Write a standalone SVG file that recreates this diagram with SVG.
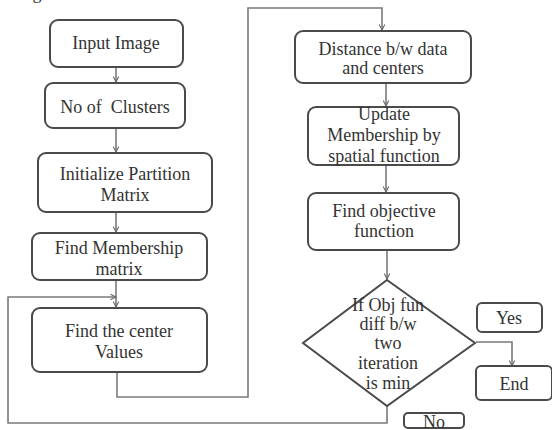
<svg xmlns="http://www.w3.org/2000/svg" width="552" height="430" viewBox="0 0 552 430">
<style>
.box{fill:#fff;stroke:#4a4a4a;stroke-width:2}
.t{font-family:'Liberation Serif','Times New Roman',serif;font-size:18px;fill:#333;text-anchor:middle}
.c{fill:none;stroke:#7a7a7a;stroke-width:1.6}
</style>
<defs>
<marker id="ah" viewBox="0 0 10 10" refX="9" refY="5" markerWidth="7" markerHeight="7" orient="auto" markerUnits="userSpaceOnUse">
<path d="M1,1 L9,5 L1,9" fill="none" stroke="#666" stroke-width="1.5"/>
</marker>
</defs>
<rect width="552" height="430" fill="#fff"/>
<text x="37" y="-1" class="t">g</text>
<g id="connectors">
<line class="c" x1="116" y1="67" x2="116" y2="82" marker-end="url(#ah)"/>
<line class="c" x1="116" y1="128" x2="116" y2="152" marker-end="url(#ah)"/>
<line class="c" x1="116" y1="212" x2="116" y2="232" marker-end="url(#ah)"/>
<line class="c" x1="116" y1="280" x2="116" y2="307" marker-end="url(#ah)"/>
<polyline class="c" points="117,372 117,397 248,397 248,8 382,8 382,30" marker-end="url(#ah)"/>
<line class="c" x1="386" y1="83" x2="386" y2="106" marker-end="url(#ah)"/>
<line class="c" x1="386" y1="165" x2="386" y2="192" marker-end="url(#ah)"/>
<line class="c" x1="387" y1="250" x2="387" y2="279" marker-end="url(#ah)"/>
<polyline class="c" points="476,342 512,342 512,366" marker-end="url(#ah)"/>
<polyline class="c" points="387,406 387,423 8,423 8,297 116,297" marker-end="url(#ah)"/>
</g>
<g id="input-image"><rect class="box" x="50" y="20" width="133" height="47" rx="8"/><text class="t" x="116" y="49">Input Image</text></g>
<g id="no-of-clusters"><rect class="box" x="45" y="83" width="140" height="45" rx="8"/><text class="t" x="115" y="113" xml:space="preserve">No of  Clusters</text></g>
<g id="init-partition"><rect class="box" x="38" y="153" width="174" height="59" rx="8"/><text class="t" x="125" y="180">Initialize Partition</text><text class="t" x="125" y="201">Matrix</text></g>
<g id="find-membership"><rect class="box" x="32" y="233" width="175" height="47" rx="8"/><text class="t" x="119" y="254">Find Membership</text><text class="t" x="119" y="275">matrix</text></g>
<g id="find-center"><rect class="box" x="32" y="308" width="175" height="64" rx="8"/><text class="t" x="119" y="337">Find the center</text><text class="t" x="119" y="358">Values</text></g>
<g id="distance"><rect class="box" x="295" y="31" width="176" height="52" rx="8"/><text class="t" x="383" y="55">Distance b/w data</text><text class="t" x="383" y="74">and centers</text></g>
<g id="update-membership"><rect class="box" x="308" y="107" width="151" height="58" rx="8"/><text class="t" x="384" y="120">Update</text><text class="t" x="384" y="141">Membership by</text><text class="t" x="384" y="162">spatial function</text></g>
<g id="find-objective"><rect class="box" x="308" y="193" width="151" height="57" rx="8"/><text class="t" x="384" y="217">Find objective</text><text class="t" x="384" y="237">function</text></g>
<g id="decision"><polygon class="box" points="387,280 475,343 387,406 303,343"/><text class="t" x="388" y="311">If Obj fun</text><text class="t" x="388" y="330">diff b/w</text><text class="t" x="388" y="349">two</text><text class="t" x="388" y="369">iteration</text><text class="t" x="388" y="389">is min</text></g>
<g id="yes"><rect class="box" x="477" y="303" width="65" height="29" rx="5"/><text class="t" x="509" y="324">Yes</text></g>
<g id="end"><rect class="box" x="476" y="366" width="76" height="34" rx="5"/><text class="t" x="514" y="390">End</text></g>
<g id="no"><rect class="box" x="404" y="413" width="60" height="15" rx="4"/><text class="t" x="434" y="428" font-size="16">No</text></g>
</svg>
